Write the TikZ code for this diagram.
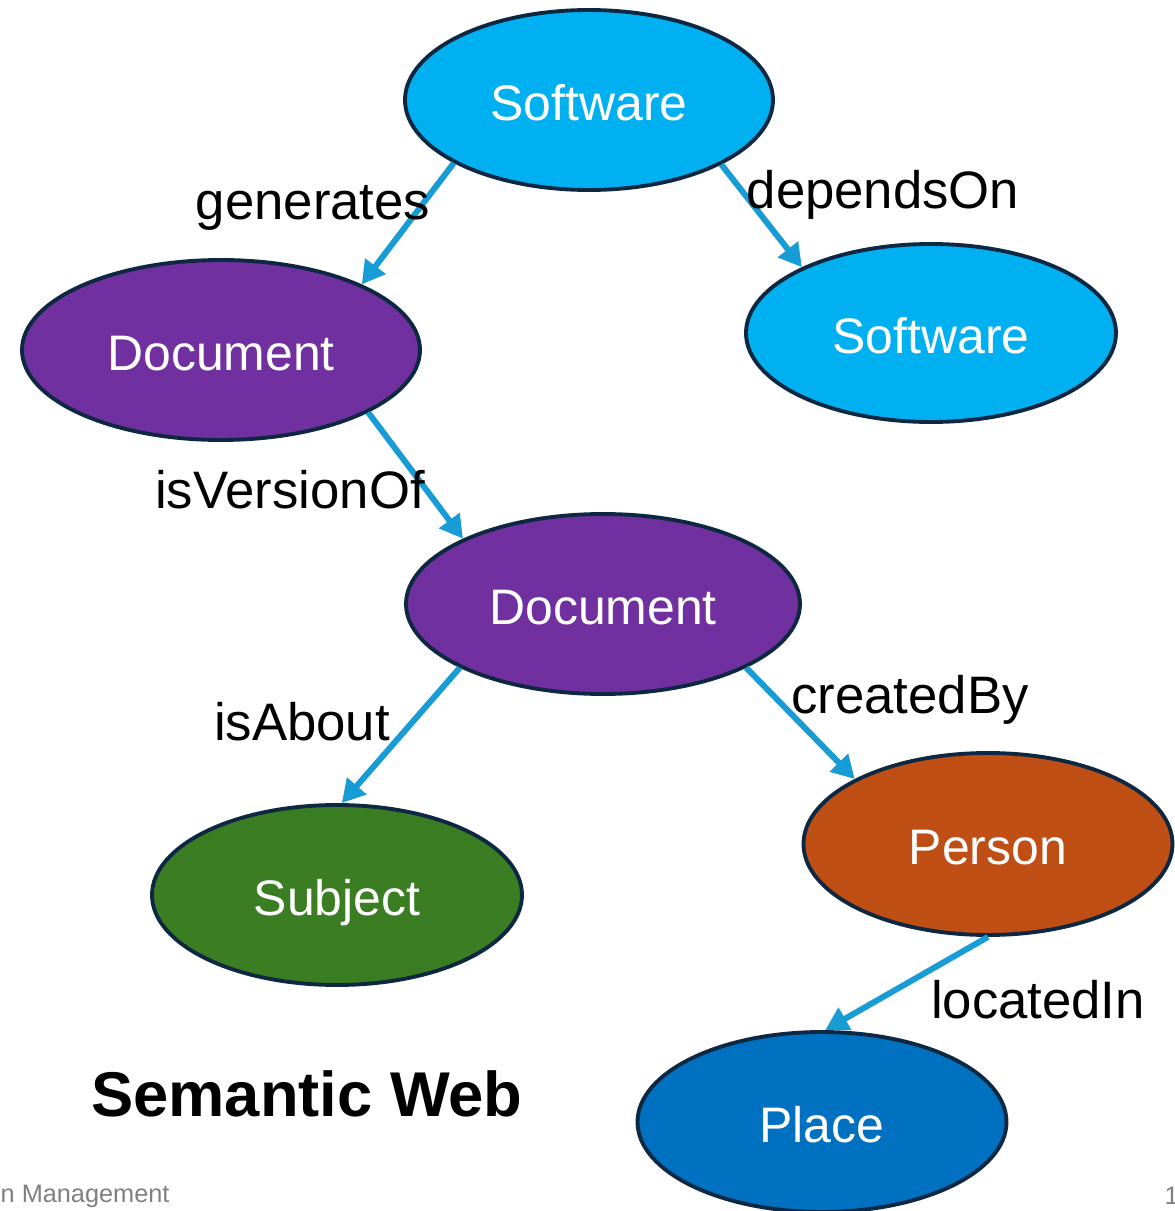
\documentclass[tikz,border=0pt]{standalone}
\usepackage{fontspec}
\setmainfont{Liberation Sans}
\usepackage{tikz}
\usetikzlibrary{shapes.geometric,arrows.meta}
\definecolor{softblue}{HTML}{00B0F0}
\definecolor{docpurple}{HTML}{7030A0}
\definecolor{subjgreen}{HTML}{3B7D23}
\definecolor{persorange}{HTML}{C04F15}
\definecolor{placeblue}{HTML}{0070C0}
\definecolor{rimnavy}{HTML}{0E2841}
\definecolor{linkblue}{HTML}{179CD6}
\tikzset{
  entity/.style={ellipse,draw=rimnavy,line width=1.1pt,text=white,
    font=\fontsize{14.2}{17}\selectfont,inner sep=0pt,
    text height=11.9pt,text depth=0pt},
  relation/.style={font=\fontsize{15}{18}\selectfont,inner sep=0pt},
  link/.style={linkblue,line width=1.7pt,-{Triangle[length=6.5pt,width=7pt]}}
}

\begin{document}
\begin{tikzpicture}
\useasboundingbox (0,0) rectangle (11.75,12.11);
% classes
\node[entity,fill=softblue,minimum width=3.68cm,minimum height=1.80cm] (softtop) at (5.89,11.11) {Software};
\node[entity,fill=docpurple,minimum width=3.98cm,minimum height=1.80cm] (doctop) at (2.21,8.61) {Document};
\node[entity,fill=softblue,minimum width=3.70cm,minimum height=1.78cm] (softdep) at (9.31,8.78) {Software};
\node[entity,fill=docpurple,minimum width=3.94cm,minimum height=1.80cm] (docmid) at (6.03,6.07) {Document};
\node[entity,fill=subjgreen,minimum width=3.70cm,minimum height=1.80cm] (subject) at (3.37,3.16) {Subject};
\node[entity,fill=persorange,minimum width=3.69cm,minimum height=1.82cm] (person) at (9.88,3.67) {Person};
\node[entity,fill=placeblue,minimum width=3.69cm,minimum height=1.80cm] (place) at (8.22,0.89) {Place};
% properties
\draw[link] (softtop.205) -- (doctop.25);
\draw[link] (softtop.334) -- (softdep.153);
\draw[link] (doctop.337) -- (docmid.155);
\draw[link] (docmid.204) -- (subject.87);
\draw[link] (docmid.336) -- (person.154);
\draw[link] (person.270) -- (place.88);
\node[relation] (generates) at (3.13,10.03) {generates};
\node[relation] (dependson) at (8.83,10.16) {dependsOn};
\node[relation] (isversionof) at (2.90,7.21) {isVersionOf};
\node[relation] (isabout) at (3.02,4.89) {isAbout};
\node[relation] (createdby) at (9.10,5.11) {createdBy};
\node[relation] (locatedin) at (10.38,2.11) {locatedIn};
% title and footer
\node[font=\fontsize{18}{22}\selectfont\bfseries,inner sep=0pt] (title) at (3.07,1.17) {Semantic Web};
\node[font=\fontsize{7.2}{9}\selectfont,text=gray,anchor=west,inner sep=0pt] (footer) at (0,0.15) {n Management};
\node[font=\fontsize{7.2}{9}\selectfont,text=gray,anchor=west,inner sep=0pt] (pagenum) at (11.64,0.15) {1};
\end{tikzpicture}
\end{document}
